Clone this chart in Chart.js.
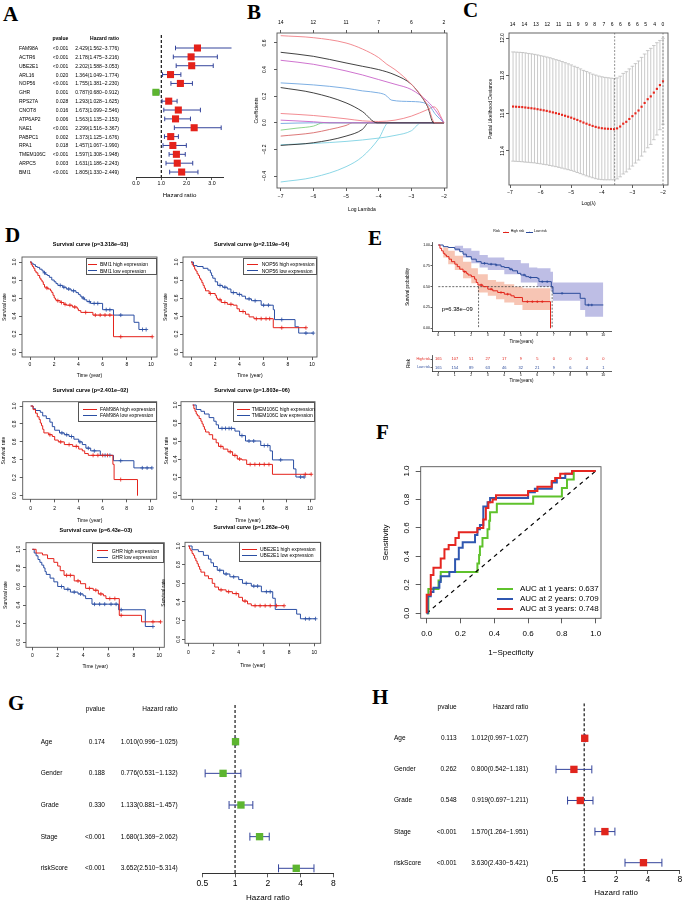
<!DOCTYPE html>
<html>
<head>
<meta charset="utf-8">
<script src="https://cdn.jsdelivr.net/npm/chart.js@4.4.1/dist/chart.umd.min.js"></script>
<style>
  body { margin: 0; background: #fff; }
  #page { position: relative; width: 685px; height: 902px; overflow: hidden; background: #fff;
          font-family: "Liberation Sans", Arial, Helvetica, sans-serif; }
  #page canvas { position: absolute; left: 0; top: 0; }
  .t { position: absolute; white-space: nowrap; line-height: 1; color: #000; }
  .ln { position: absolute; }
  .lg { position: absolute; border: 0.8px solid #555; box-sizing: border-box; }
</style>
</head>
<body>
<div id="page"></div>
<script>
// ---------- A: univariate cox ----------
const A_GENES = ['FAM98A', 'ACTR6', 'UBE2E1', 'ARL16', 'NOP56', 'GHR', 'RPS27A', 'CNOT8', 'ATP6AP2', 'NAE1', 'PABPC1', 'RPA1', 'TMEM106C', 'ARPC5', 'BMI1'];
const A_PVAL = ['<0.001', '<0.001', '<0.001', '0.020', '<0.001', '0.001', '0.028', '0.016', '0.006', '<0.001', '0.002', '0.018', '<0.001', '0.003', '<0.001'];
const A_HR = [2.429, 2.178, 2.202, 1.364, 1.755, 0.787, 1.293, 1.673, 1.563, 2.299, 1.373, 1.457, 1.597, 1.631, 1.805];
const A_LO = [1.562, 1.475, 1.588, 1.049, 1.381, 0.680, 1.028, 1.099, 1.135, 1.516, 1.125, 1.067, 1.308, 1.186, 1.330];
const A_HI = [3.776, 3.216, 3.053, 1.774, 2.230, 0.912, 1.625, 2.546, 2.153, 3.367, 1.676, 1.990, 1.948, 2.243, 2.449];

// ---------- B: lasso coefficient paths [log lambda, coef] ----------
const B_TOP_AT = [-7, -6, -5, -4, -3, -2];
const B_TOP_DF = [14, 12, 11, 7, 6, 2];
const B_P1 = [[-7, 0.655], [-6, 0.64], [-5, 0.6], [-4.5, 0.555], [-4, 0.49], [-3.75, 0.44], [-3.5, 0.4], [-3, 0.29], [-2.5, 0.13], [-2.28, 0], [-2, 0]];
const B_P2 = [[-7, 0.53], [-6, 0.5], [-5, 0.45], [-4.5, 0.425], [-4, 0.4], [-3.5, 0.36], [-3, 0.29], [-2.7, 0.2], [-2.5, 0.12], [-2.32, 0], [-2, 0]];
const B_P3 = [[-7, 0.47], [-6, 0.44], [-5, 0.39], [-4.5, 0.36], [-4, 0.325], [-3.5, 0.29], [-3, 0.25], [-2.5, 0.16], [-2.25, 0.09], [-2, 0]];
const B_P4 = [[-7, 0.3], [-6, 0.285], [-5, 0.26], [-4.5, 0.24], [-4, 0.225], [-3.8, 0.21], [-3.6, 0.17], [-3, 0.16], [-2.5, 0.14], [-2.25, 0.06], [-2, 0]];
const B_P5 = [[-7, 0.265], [-6, 0.225], [-5, 0.15], [-4.5, 0.085], [-4.05, 0], [-2, 0]];
const B_P6 = [[-7, 0.07], [-6, 0.055], [-5, 0.03], [-4.5, 0.015], [-4, 0.01], [-3.5, 0.02], [-3, 0.05], [-2.5, 0.1], [-2.3, 0.12], [-2, 0]];
const B_P7 = [[-7, 0.02], [-6, 0.008], [-5.5, 0], [-2, 0]];
const B_P8 = [[-7, -0.005], [-6, 0], [-2, 0]];
const B_P9 = [[-7, -0.055], [-6.5, -0.04], [-6, -0.025], [-5.7, 0], [-2, 0]];
const B_P10 = [[-7, -0.1], [-6, -0.075], [-5.5, -0.05], [-5, -0.02], [-4.8, 0], [-2, 0]];
const B_P11 = [[-7, -0.17], [-6, -0.15], [-5, -0.1], [-4.5, -0.05], [-4.3, 0], [-2, 0]];
const B_P12 = [[-7, -0.165], [-6, -0.155], [-5, -0.14], [-4, -0.115], [-3.5, -0.095], [-3, -0.06], [-2.7, 0], [-2, 0]];
const B_P13 = [[-7, -0.445], [-6, -0.41], [-5, -0.33], [-4.5, -0.255], [-4, -0.12], [-3.7, 0], [-2, 0]];

// ---------- C: cross validation ----------
const C_LOG_LAMBDA = [-6.9, -6.8, -6.7, -6.6, -6.5, -6.4, -6.3, -6.2, -6.1, -6.0, -5.9, -5.8, -5.7, -5.6, -5.5, -5.4, -5.3, -5.2, -5.1, -5.0,
  -4.9, -4.8, -4.7, -4.6, -4.5, -4.4, -4.3, -4.2, -4.1, -4.0, -3.9, -3.8, -3.7, -3.6, -3.5, -3.4, -3.3, -3.2, -3.1, -3.0,
  -2.9, -2.8, -2.7, -2.6, -2.5, -2.4, -2.3, -2.2, -2.1, -2.0];
const C_DEV = [11.636, 11.635, 11.634, 11.633, 11.631, 11.629, 11.627, 11.625, 11.622, 11.619, 11.616, 11.613, 11.609, 11.605, 11.601, 11.597, 11.592, 11.587, 11.582, 11.577,
  11.571, 11.565, 11.558, 11.551, 11.545, 11.539, 11.533, 11.528, 11.524, 11.521, 11.519, 11.518, 11.517, 11.516, 11.52, 11.53, 11.545, 11.555, 11.57, 11.585,
  11.6, 11.615, 11.635, 11.655, 11.675, 11.69, 11.71, 11.73, 11.75, 11.77];
const C_SE = [0.29, 0.29, 0.29, 0.29, 0.29, 0.289, 0.289, 0.288, 0.288, 0.287, 0.287, 0.286, 0.286, 0.285, 0.284, 0.284, 0.283, 0.282, 0.281, 0.28,
  0.279, 0.279, 0.278, 0.277, 0.277, 0.276, 0.275, 0.275, 0.274, 0.273, 0.272, 0.271, 0.27, 0.269, 0.268, 0.267, 0.267, 0.266, 0.266, 0.265,
  0.264, 0.263, 0.262, 0.26, 0.258, 0.255, 0.25, 0.245, 0.237, 0.228];
const C_TOP_AT = [-6.92, -6.53, -6.15, -5.78, -5.41, -5.07, -4.77, -4.5, -4.23, -3.93, -3.66, -3.39, -3.11, -2.84, -2.57, -2.27, -2.0];
const C_TOP_DF = [14, 14, 13, 12, 11, 11, 9, 9, 8, 7, 6, 6, 6, 6, 5, 4, 0];
const C_LAMBDA_MIN = -3.58;
const C_LAMBDA_1SE = -2.0;

// ---------- D: km curves [time, survival] ----------
const D_GENES = ['BMI1', 'NOP56', 'FAM98A', 'TMEM106C', 'GHR', 'UBE2E1'];
const D_PVALS = ['3.318e\u221203', '2.119e\u221204', '2.401e\u221202', '1.803e\u221206', '6.43e\u221203', '1.263e\u221204'];
const BMI1_HIGH = [[0, 1], [0.1, 0.97], [0.2, 0.95], [0.3, 0.93], [0.4, 0.9], [0.5, 0.88], [0.65, 0.85], [0.8, 0.82], [0.9, 0.8], [1.0, 0.78], [1.1, 0.75], [1.2, 0.72], [1.4, 0.71], [1.5, 0.7], [1.7, 0.68], [1.8, 0.66], [1.9, 0.63], [2.0, 0.6], [2.1, 0.58], [2.2, 0.57], [2.5, 0.55], [2.8, 0.53], [3.0, 0.52], [3.5, 0.5], [3.9, 0.48], [4.0, 0.46], [4.2, 0.44], [5.2, 0.41], [6.9, 0.17], [10.1, 0.17]];
const BMI1_LOW = [[0, 1], [0.15, 0.98], [0.3, 0.97], [0.45, 0.95], [0.6, 0.94], [0.8, 0.92], [1.0, 0.9], [1.15, 0.88], [1.3, 0.86], [1.45, 0.85], [1.6, 0.83], [1.8, 0.8], [2.0, 0.78], [2.15, 0.76], [2.3, 0.74], [2.7, 0.72], [3.0, 0.7], [3.4, 0.68], [3.8, 0.66], [4.0, 0.64], [4.15, 0.62], [4.3, 0.6], [4.5, 0.58], [4.7, 0.56], [5.0, 0.54], [6.0, 0.47], [6.9, 0.41], [8.6, 0.33], [9.0, 0.25], [9.6, 0.25]];
const NOP56_HIGH = [[0, 1], [0.1, 0.97], [0.2, 0.95], [0.3, 0.92], [0.4, 0.9], [0.5, 0.87], [0.6, 0.85], [0.7, 0.82], [0.8, 0.8], [0.9, 0.77], [1.0, 0.74], [1.1, 0.71], [1.2, 0.68], [1.5, 0.65], [2.0, 0.63], [2.1, 0.6], [2.2, 0.58], [2.5, 0.55], [3.0, 0.53], [3.5, 0.52], [3.8, 0.48], [4.0, 0.45], [4.5, 0.42], [4.8, 0.39], [5.2, 0.37], [6.8, 0.27], [9.5, 0.27]];
const NOP56_LOW = [[0, 1], [0.2, 0.96], [0.5, 0.95], [1.0, 0.93], [1.4, 0.91], [1.6, 0.88], [1.7, 0.85], [1.8, 0.82], [2.0, 0.78], [2.2, 0.74], [2.6, 0.72], [3.0, 0.7], [3.3, 0.66], [3.8, 0.64], [4.2, 0.62], [4.5, 0.59], [5.0, 0.57], [5.8, 0.52], [6.8, 0.47], [6.9, 0.36], [8.6, 0.28], [8.9, 0.21], [10.1, 0.21]];
const FAM98A_HIGH = [[0, 1], [0.2, 0.96], [0.4, 0.92], [0.55, 0.88], [0.7, 0.85], [0.8, 0.81], [0.9, 0.78], [1.0, 0.74], [1.1, 0.7], [1.5, 0.68], [1.8, 0.66], [2.0, 0.62], [2.3, 0.6], [2.8, 0.57], [3.5, 0.55], [4.0, 0.52], [4.3, 0.5], [4.5, 0.47], [4.8, 0.45], [6.85, 0.35], [6.95, 0.18], [8.9, 0.0]];
const FAM98A_LOW = [[0, 1], [0.2, 0.97], [0.4, 0.95], [0.8, 0.93], [1.0, 0.89], [1.3, 0.86], [1.6, 0.82], [1.8, 0.77], [2.0, 0.73], [2.4, 0.7], [2.8, 0.68], [3.2, 0.66], [3.6, 0.63], [4.0, 0.6], [4.3, 0.57], [4.6, 0.53], [5.0, 0.5], [5.8, 0.45], [6.9, 0.39], [8.6, 0.31], [10.1, 0.31]];
const TMEM106C_HIGH = [[0, 1], [0.1, 0.96], [0.2, 0.93], [0.3, 0.9], [0.4, 0.88], [0.55, 0.85], [0.7, 0.82], [0.8, 0.79], [0.9, 0.76], [1.0, 0.73], [1.1, 0.7], [1.4, 0.67], [1.7, 0.62], [2.0, 0.58], [2.2, 0.54], [2.6, 0.51], [3.0, 0.48], [3.4, 0.44], [3.8, 0.4], [4.2, 0.39], [4.6, 0.34], [6.8, 0.23], [10.1, 0.23]];
const TMEM106C_LOW = [[0, 1], [0.3, 0.95], [0.7, 0.93], [1.0, 0.9], [1.4, 0.86], [1.8, 0.82], [2.0, 0.78], [2.2, 0.74], [3.6, 0.71], [4.0, 0.66], [4.5, 0.6], [5.8, 0.55], [6.6, 0.49], [6.8, 0.39], [8.6, 0.29], [8.8, 0.2], [9.5, 0.2]];
const GHR_HIGH = [[0, 1], [0.3, 0.96], [0.8, 0.94], [1.2, 0.9], [1.7, 0.86], [2.0, 0.82], [2.2, 0.77], [2.5, 0.72], [3.3, 0.66], [3.8, 0.63], [4.2, 0.58], [4.8, 0.56], [5.2, 0.52], [5.6, 0.5], [5.8, 0.47], [6.85, 0.29], [8.6, 0.22], [10.1, 0.22]];
const GHR_LOW = [[0, 1], [0.15, 0.96], [0.3, 0.93], [0.45, 0.89], [0.6, 0.86], [0.75, 0.83], [0.9, 0.8], [1.0, 0.76], [1.1, 0.73], [1.4, 0.69], [1.7, 0.65], [2.0, 0.6], [2.5, 0.57], [3.0, 0.54], [3.6, 0.52], [4.0, 0.5], [4.2, 0.47], [4.7, 0.41], [6.8, 0.35], [8.9, 0.17], [9.5, 0.17]];
const UBE2E1_HIGH = [[0, 1], [0.1, 0.97], [0.2, 0.95], [0.3, 0.92], [0.4, 0.9], [0.5, 0.87], [0.6, 0.84], [0.7, 0.81], [0.8, 0.78], [0.9, 0.75], [1.0, 0.72], [1.3, 0.68], [1.6, 0.65], [1.9, 0.6], [2.1, 0.56], [2.4, 0.53], [3.0, 0.51], [3.5, 0.49], [4.0, 0.45], [4.3, 0.41], [4.7, 0.38], [5.0, 0.36], [7.6, 0.36]];
const UBE2E1_LOW = [[0, 1], [0.3, 0.96], [0.8, 0.94], [1.2, 0.9], [1.6, 0.86], [1.8, 0.82], [2.0, 0.78], [2.3, 0.74], [2.8, 0.7], [3.3, 0.67], [4.0, 0.64], [4.3, 0.6], [5.0, 0.57], [5.8, 0.51], [6.7, 0.44], [6.9, 0.32], [8.6, 0.27], [8.9, 0.22], [10.1, 0.22]];
const BMI1_HIGH_CENS = [1.4, 2.3, 2.6, 2.9, 3.3, 3.7, 4.6, 5.4, 5.8, 6.2, 6.6, 7.5, 10.1];
const BMI1_LOW_CENS = [1.2, 2.5, 2.8, 3.2, 3.6, 4.4, 4.9, 5.3, 5.6, 6.3, 6.6, 7.5, 9.3, 9.6];
const NOP56_HIGH_CENS = [1.6, 2.4, 2.8, 3.3, 4.3, 5.4, 5.8, 6.2, 6.5, 7.5, 9.5];
const NOP56_LOW_CENS = [2.4, 2.8, 3.5, 4.0, 4.8, 5.3, 6.0, 6.4, 7.5, 9.5, 10.1];
const FAM98A_HIGH_CENS = [1.6, 2.5, 3.2, 3.8, 5.2, 5.6, 6.0, 6.4, 7.5];
const FAM98A_LOW_CENS = [2.6, 3.0, 3.4, 4.1, 4.8, 5.3, 6.2, 6.6, 7.5, 9.3, 9.7, 10.1];
const TMEM106C_HIGH_CENS = [2.4, 3.2, 3.6, 4.0, 4.9, 5.3, 5.7, 6.1, 6.5, 9.6, 10.1];
const TMEM106C_LOW_CENS = [2.5, 2.8, 3.1, 3.3, 4.2, 4.8, 5.2, 6.1, 6.4, 7.5, 9.2, 9.5];
const GHR_HIGH_CENS = [2.7, 3.0, 3.6, 4.5, 5.0, 5.4, 6.1, 6.5, 7.0, 9.5, 10.1];
const GHR_LOW_CENS = [2.3, 2.8, 3.3, 3.8, 4.9, 5.3, 5.7, 6.2, 6.6, 7.0, 9.5];
const UBE2E1_HIGH_CENS = [2.6, 3.2, 3.8, 4.5, 5.3, 5.7, 6.1, 6.5, 7.0, 7.6];
const UBE2E1_LOW_CENS = [2.5, 3.0, 3.6, 4.6, 5.2, 5.5, 6.2, 6.5, 9.3, 9.6, 10.1];

// ---------- E: risk score km ----------
const E_HIGH = [[0, 1], [0.1, 0.96], [0.2, 0.93], [0.3, 0.9], [0.4, 0.88], [0.5, 0.86], [0.65, 0.83], [0.8, 0.8], [1.0, 0.77], [1.15, 0.74], [1.3, 0.71], [1.5, 0.68], [1.7, 0.66], [1.8, 0.64], [2.0, 0.62], [2.2, 0.59], [2.3, 0.55], [2.4, 0.52], [2.7, 0.5], [3.0, 0.47], [3.3, 0.45], [3.6, 0.43], [4.0, 0.41], [4.4, 0.39], [4.6, 0.37], [5.1, 0.32], [6.8, 0.0]];
const E_HIGH_UP = [[0, 1], [0.3, 0.97], [0.6, 0.93], [1.0, 0.87], [1.5, 0.8], [2.0, 0.72], [2.4, 0.65], [3.0, 0.58], [3.5, 0.56], [4.0, 0.53], [4.6, 0.5], [5.1, 0.48], [6.8, 0.48]];
const E_HIGH_LO = [[0, 1], [0.3, 0.85], [0.6, 0.77], [1.0, 0.7], [1.5, 0.6], [2.0, 0.54], [2.4, 0.43], [3.0, 0.39], [3.5, 0.35], [4.0, 0.31], [4.6, 0.28], [5.1, 0.22], [6.8, 0.22]];
const E_LOW = [[0, 1], [0.3, 0.98], [0.6, 0.97], [1.0, 0.95], [1.3, 0.92], [1.5, 0.89], [1.7, 0.86], [2.0, 0.83], [2.3, 0.8], [2.6, 0.78], [3.0, 0.77], [3.5, 0.76], [3.8, 0.74], [4.0, 0.73], [4.3, 0.71], [4.5, 0.69], [4.8, 0.66], [5.0, 0.64], [5.3, 0.62], [5.5, 0.61], [6.0, 0.6], [6.1, 0.56], [6.85, 0.5], [6.95, 0.42], [8.6, 0.36], [8.9, 0.28], [10.0, 0.28]];
const E_LOW_UP = [[0, 1], [1.0, 0.99], [1.5, 0.96], [2.0, 0.93], [2.5, 0.88], [3.0, 0.85], [4.0, 0.82], [5.0, 0.78], [5.5, 0.73], [6.0, 0.72], [6.8, 0.68], [6.95, 0.55], [10.0, 0.55]];
const E_LOW_LO = [[0, 1], [1.0, 0.93], [1.5, 0.85], [2.0, 0.78], [2.5, 0.73], [3.0, 0.7], [4.0, 0.65], [5.0, 0.55], [6.0, 0.5], [6.8, 0.45], [6.95, 0.33], [8.6, 0.22], [8.9, 0.14], [10.0, 0.14]];
const E_HIGH_CENS = [1.6, 2.6, 3.2, 3.8, 4.2, 5.4, 5.7, 6.0, 6.3];
const E_LOW_CENS = [2.8, 3.2, 3.5, 4.4, 5.2, 5.6, 6.3, 6.6, 7.5, 9.1, 9.3];
const E_MED_HIGH = 2.44;
const E_MED_LOW = 6.9;
const E_PVALUE = 'p=6.38e\u221209';
const E_RISK_T = [0, 1, 2, 3, 4, 5, 6, 7, 8, 9, 10];
const E_RISK_HIGH = [165, 107, 51, 27, 17, 9, 5, 0, 0, 0, 0];
const E_RISK_LOW = [165, 154, 89, 63, 46, 32, 21, 9, 6, 4, 1];

// ---------- F: time dependent roc [fpr, tpr] ----------
const F_YEARS = [1, 2, 3];
const F_AUC = [0.637, 0.709, 0.748];
const ROC_1Y = [[0, 0], [0.01, 0.17], [0.07, 0.23], [0.083, 0.29], [0.3, 0.35], [0.31, 0.41], [0.315, 0.47], [0.33, 0.53], [0.36, 0.59], [0.37, 0.65], [0.375, 0.71], [0.415, 0.77], [0.63, 0.82], [0.8, 0.88], [0.83, 0.94], [0.87, 1], [1, 1]];
const ROC_2Y = [[0, 0], [0.006, 0.12], [0.024, 0.15], [0.04, 0.18], [0.075, 0.22], [0.083, 0.26], [0.134, 0.29], [0.168, 0.38], [0.19, 0.46], [0.213, 0.5], [0.286, 0.55], [0.3, 0.59], [0.315, 0.62], [0.335, 0.75], [0.36, 0.78], [0.375, 0.81], [0.6, 0.85], [0.64, 0.875], [0.74, 0.92], [0.77, 0.95], [0.82, 0.98], [0.86, 1], [1, 1]];
const ROC_3Y = [[0, 0], [0, 0.13], [0.024, 0.27], [0.04, 0.32], [0.083, 0.385], [0.105, 0.45], [0.13, 0.48], [0.17, 0.53], [0.19, 0.57], [0.3, 0.6], [0.335, 0.66], [0.35, 0.74], [0.365, 0.78], [0.39, 0.8], [0.41, 0.83], [0.6, 0.86], [0.655, 0.89], [0.74, 0.93], [0.76, 0.95], [0.79, 0.98], [0.86, 1], [1, 1]];

// ---------- G / H: uni and multivariate cox ----------
const GH_VARS = ['Age', 'Gender', 'Grade', 'Stage', 'riskScore'];
const G_PVAL = ['0.174', '0.188', '0.330', '<0.001', '<0.001'];
const G_HR = [1.010, 0.776, 1.133, 1.680, 3.652];
const G_LO = [0.996, 0.531, 0.881, 1.369, 2.510];
const G_HI = [1.025, 1.132, 1.457, 2.062, 5.314];
const H_PVAL = ['0.113', '0.262', '0.548', '<0.001', '<0.001'];
const H_HR = [1.012, 0.800, 0.919, 1.570, 3.630];
const H_LO = [0.997, 0.542, 0.697, 1.264, 2.430];
const H_HI = [1.027, 1.181, 1.211, 1.951, 5.421];

// ================= drawing =================
const W = 685, H = 902;
const page = document.getElementById('page');
const SERIF = '"Liberation Serif", "Times New Roman", serif';
const RED = '#e4221b', BLUE = '#2a4ea3', GREEN = '#5db530', CI_COL = '#34449b';
const MINUS = '\u2212';

Chart.defaults.font.family = '"Liberation Sans", Arial, Helvetica, sans-serif';
Chart.defaults.color = '#000';
Chart.defaults.elements.point.radius = 0;
Chart.defaults.elements.point.hoverRadius = 0;

function txt(s, x, y, o = {}) {
  const d = document.createElement('div');
  d.className = 't';
  d.textContent = s;
  d.style.left = x + 'px';
  d.style.top = y + 'px';
  d.style.fontSize = (o.size || 5) + 'px';
  if (o.bold) d.style.fontWeight = 'bold';
  if (o.color) d.style.color = o.color;
  if (o.font) d.style.fontFamily = o.font;
  const tx = o.align === 'center' ? '-50%' : o.align === 'right' ? '-100%' : '0';
  d.style.transform = 'translate(' + tx + ',-50%)' + (o.rot ? ' rotate(' + o.rot + 'deg)' : '');
  page.appendChild(d);
}

function hline(x0, x1, y, color, w) {
  const d = document.createElement('div');
  d.className = 'ln';
  Object.assign(d.style, { left: x0 + 'px', top: (y - w / 2) + 'px', width: (x1 - x0) + 'px', height: w + 'px', background: color });
  page.appendChild(d);
}

// value range for a pixel span, from two known value/pixel pairs
function rng(v0, p0, v1, p1, pa, pb) {
  const k = (v1 - v0) / (p1 - p0);
  const a = v0 + (pa - p0) * k, b = v0 + (pb - p0) * k;
  return [Math.min(a, b), Math.max(a, b)];
}

const pts = a => a.map(([x, y]) => ({ x, y }));
const signed = d => v => (v < 0 ? MINUS : '') + Math.abs(v).toFixed(d);

function ax(o) {
  return {
    type: o.type || 'linear',
    position: o.pos || 'bottom',
    min: o.min, max: o.max, reverse: !!o.reverse,
    display: o.display !== false,
    afterBuildTicks: s => { if (o.ticks) s.ticks = o.ticks.map(v => ({ value: v })); },
    afterFit: s => { if (o.w !== undefined) s.width = o.w; if (o.h !== undefined) s.height = o.h; },
    ticks: {
      display: o.labels !== false,
      autoSkip: false,
      font: { size: o.fs || 5 },
      color: o.tcolor || '#000',
      padding: o.pad || 0,
      callback: o.fmt || (v => String(v)),
      minRotation: o.rot ? 90 : 0,
      maxRotation: o.rot ? 90 : 0,
      crossAlign: o.rot ? 'center' : 'near'
    },
    grid: { drawOnChartArea: false, drawTicks: (o.tl || 0) > 0, tickLength: o.tl || 0, tickColor: '#333', tickWidth: 0.8 },
    border: { display: !!o.border, color: '#333', width: o.bw || 0.8 },
    title: { display: !!o.title, text: o.title || '', font: { size: o.ts || 5 }, padding: 0, color: '#000' }
  };
}

const frame = {
  id: 'frame',
  afterDraw(ch) {
    const { ctx, chartArea: a } = ch;
    ctx.save();
    ctx.strokeStyle = '#555';
    ctx.lineWidth = 0.9;
    ctx.strokeRect(a.left, a.top, a.right - a.left, a.bottom - a.top);
    ctx.restore();
  }
};

function plot(b, datasets, scales, plugins) {
  const c = document.createElement('canvas');
  c.width = W; c.height = H;
  page.appendChild(c);
  return new Chart(c, {
    type: 'line',
    data: { datasets },
    options: {
      responsive: false, animation: false, events: [],
      layout: { padding: { left: b.l - (b.yw || 0), right: W - b.r, top: b.t - (b.th || 0), bottom: H - b.b - (b.xh || 0) } },
      scales,
      plugins: { legend: { display: false }, tooltip: { enabled: false } }
    },
    plugins: plugins || []
  });
}

function lineDs(data, color, o = {}) {
  return Object.assign({ data, borderColor: color, borderWidth: 1, pointRadius: 0, fill: false }, o);
}

function censDs(curve, times, color, r) {
  const data = times.map(t => {
    let s = curve[0][1];
    for (const [ti, si] of curve) if (ti <= t) s = si;
    return { x: t, y: s };
  });
  return { data, showLine: false, pointStyle: 'cross', pointRadius: r || 2, pointBorderColor: color, pointBorderWidth: 0.8, order: 0 };
}

function dashDs(a, color, w, dash) {
  return { data: pts(a), borderColor: color, borderWidth: w, borderDash: dash, pointRadius: 0, fill: false };
}

// ---------- panel letters ----------
[['A', 3, 13.5], ['B', 247, 12], ['C', 463, 10], ['D', 5, 234.5], ['E', 368, 237.5], ['F', 376, 432], ['G', 8, 702.5], ['H', 372, 697]]
  .forEach(([s, x, y]) => txt(s, x, y, { size: 21, bold: true, font: SERIF }));

// ---------- forest helper ----------
function forest(b, xo, yr, hr, lo, hi, colors, r, cap) {
  const ci = [];
  hr.forEach((v, i) => ci.push({ x: lo[i], y: i }, { x: hi[i], y: i }, { x: hi[i], y: null }));
  return plot(b, [
    { data: hr.map((v, i) => ({ x: v, y: i })), showLine: false, pointStyle: 'rect', pointRadius: r,
      pointBackgroundColor: colors, pointBorderWidth: 0, order: 1, clip: false },
    { data: ci, borderColor: CI_COL, borderWidth: 1, pointStyle: 'line', pointRadius: cap, pointRotation: 90,
      pointBorderColor: CI_COL, pointBorderWidth: 1, order: 2, clip: false, fill: false },
    { data: [{ x: 1, y: yr[0] }, { x: 1, y: yr[1] }], borderColor: '#000', borderWidth: 1.1, borderDash: [3, 2], pointRadius: 0, order: 3, fill: false }
  ], { x: ax(xo), y: ax({ min: yr[0], max: yr[1], reverse: true, display: false }) });
}

// ---------- A ----------
{
  const b = { l: 136, r: 223, t: 35, b: 177, xh: 21.7 };
  const yr = [-1.468, 14.56];
  const ch = forest(b, { min: 0, max: 3.439, ticks: [0, 1, 2, 3], tl: 3, pad: 0, fs: 5.3, border: true, bw: 1,
    h: b.xh, title: 'Hazard ratio', ts: 6.2, fmt: v => v.toFixed(1) },
    yr, A_HR, A_LO, A_HI, A_HR.map(v => v < 1 ? GREEN : RED), 5, 2.3);
  const ys = ch.scales.y;
  txt('pvalue', 68.3, 38.3, { size: 5, bold: true, align: 'right' });
  txt('Hazard ratio', 119, 38.3, { size: 5, bold: true, align: 'right' });
  A_GENES.forEach((g, i) => {
    const y = ys.getPixelForValue(i);
    txt(g, 19, y, { size: 5 });
    txt(A_PVAL[i], 68.3, y, { size: 5, align: 'right' });
    txt(A_HR[i].toFixed(3) + '(' + A_LO[i].toFixed(3) + MINUS + A_HI[i].toFixed(3) + ')', 119, y, { size: 5, align: 'right' });
  });
}

// ---------- B ----------
{
  const b = { l: 277, r: 447, t: 33, b: 188, yw: 23.3, xh: 25, th: 15 };
  const xr = rng(-7, 280.7, -2, 444, b.l, b.r);
  const yr = rng(0.6, 43, -0.4, 176, b.b, b.t);
  const paths = [B_P1, B_P2, B_P3, B_P4, B_P5, B_P6, B_P7, B_P8, B_P9, B_P10, B_P11, B_P12, B_P13];
  const cols = ['#f07f86', '#2e2e2e', '#c964c9', '#6ea6e0', '#2e2e2e', '#f07f86', '#c964c9', '#6ea6e0', '#7fd07f', '#d86a6a', '#2e2e2e', '#7fd3e3', '#7fd3e3'];
  plot(b, paths.map((p, i) => lineDs(pts(p), cols[i], { borderWidth: 0.9, cubicInterpolationMode: 'monotone' })), {
    x: ax({ min: xr[0], max: xr[1], ticks: [-7, -6, -5, -4, -3, -2], tl: 3, pad: 3, h: b.xh, title: 'Log Lambda', fmt: signed(0) }),
    x2: ax({ pos: 'top', min: xr[0], max: xr[1], ticks: B_TOP_AT, tl: 3, pad: 4, h: b.th, fmt: (v, i) => String(B_TOP_DF[i]) }),
    y: ax({ pos: 'left', min: yr[0], max: yr[1], ticks: [-0.4, -0.2, 0, 0.2, 0.4, 0.6], tl: 3, pad: 4, rot: true, w: b.yw, title: 'Coefficients', fmt: signed(1) })
  }, [frame]);
}

// ---------- C ----------
{
  const b = { l: 509, r: 668, t: 33, b: 185, yw: 21, xh: 21.3, th: 14 };
  const xr = rng(-7, 510, -2, 663, b.l, b.r);
  const yr = rng(12.0, 38, 11.4, 151, b.b, b.t);
  const bars = [];
  C_LOG_LAMBDA.forEach((x, i) => bars.push({ x, y: C_DEV[i] - C_SE[i] }, { x, y: C_DEV[i] + C_SE[i] }, { x, y: null }));
  plot(b, [
    { data: bars, borderColor: '#bdbdbd', borderWidth: 0.8, pointStyle: 'line', pointRadius: 1.8, pointBorderColor: '#bdbdbd', pointBorderWidth: 0.8, fill: false, order: 2 },
    { data: C_LOG_LAMBDA.map((x, i) => ({ x, y: C_DEV[i] })), showLine: false, pointStyle: 'rect', pointRadius: 1.5, pointBackgroundColor: '#e8261c', pointBorderWidth: 0, order: 1 },
    dashDs([[C_LAMBDA_MIN, yr[0]], [C_LAMBDA_MIN, yr[1]]], '#777', 0.8, [2, 1.5]),
    dashDs([[C_LAMBDA_1SE, yr[0]], [C_LAMBDA_1SE, yr[1]]], '#777', 0.8, [2, 1.5])
  ], {
    x: ax({ min: xr[0], max: xr[1], ticks: [-7, -6, -5, -4, -3, -2], tl: 3, pad: 1.3, h: b.xh, title: 'Log(\u03bb)', fmt: signed(0) }),
    x2: ax({ pos: 'top', min: xr[0], max: xr[1], ticks: C_TOP_AT, tl: 0, pad: 5, h: b.th, fmt: (v, i) => String(C_TOP_DF[i]) }),
    y: ax({ pos: 'left', min: yr[0], max: yr[1], ticks: [11.4, 11.6, 11.8, 12.0], tl: 3, pad: -1.6, rot: true, w: b.yw, title: 'Partial Likelihood Deviance', fmt: v => v.toFixed(1) })
  }, [frame]);
}

// ---------- D ----------
const D_SPECS = [
  { l: 22, r: 157, t: 257, b: 357, x0: 30, x10: 151, y1: 262, y0: 352, tickY: 365, titleY: 376, ylabX: 15, ytX: 4.3, head: [90.5, 245],
    lg: { x0: 86, y0: 258.3, x1: 156.7, y1: 275, lx0: 88, lx1: 97, tx: 100, rows: [264, 270.7] } },
  { l: 183, r: 317, t: 257, b: 357, x0: 191, x10: 312, y1: 262, y0: 352, tickY: 365, titleY: 376, ylabX: 176.7, ytX: 165.7, head: [251.7, 245],
    lg: { x0: 243, y0: 258.3, x1: 316.7, y1: 275, lx0: 246.7, lx1: 258.3, tx: 261.7, rows: [264, 270.7] } },
  { l: 22.7, r: 156.7, t: 401.7, b: 499.3, x0: 30.7, x10: 150.7, y1: 406, y0: 495.7, tickY: 508.3, titleY: 521, ylabX: 15, ytX: 4, head: [90.5, 391],
    lg: { x0: 78, y0: 401.7, x1: 156.7, y1: 421.7, lx0: 83, lx1: 97, tx: 100, rows: [409.3, 415.3] } },
  { l: 181, r: 315, t: 401.7, b: 499.3, x0: 192.7, x10: 310, y1: 405, y0: 495, tickY: 508.3, titleY: 521, ylabX: 176, ytX: 166.7, head: [252, 391],
    lg: { x0: 232.7, y0: 401.7, x1: 315, y1: 421.7, lx0: 236.7, lx1: 250, tx: 251.7, rows: [409.3, 415.3] } },
  { l: 26, r: 164.3, t: 542.7, b: 647.3, x0: 32.3, x10: 159.3, y1: 549.3, y0: 642.3, tickY: 655.7, titleY: 666.7, ylabX: 18.3, ytX: 6, head: [95.8, 531],
    lg: { x0: 92.3, y0: 543.3, x1: 164.3, y1: 563.3, lx0: 96.7, lx1: 108.3, tx: 111.7, rows: [550.7, 557.3] } },
  { l: 185, r: 320.7, t: 542.3, b: 643.3, x0: 188.3, x10: 314.3, y1: 546, y0: 639.3, tickY: 652.7, titleY: 666, ylabX: 178.5, ytX: 163.3, head: [251.3, 528],
    lg: { x0: 239.3, y0: 542.3, x1: 320.7, y1: 562.3, lx0: 242.3, lx1: 256.7, tx: 260, rows: [549.3, 555.3] } }
];
const D_CURVES = [
  [BMI1_HIGH, BMI1_LOW, BMI1_HIGH_CENS, BMI1_LOW_CENS],
  [NOP56_HIGH, NOP56_LOW, NOP56_HIGH_CENS, NOP56_LOW_CENS],
  [FAM98A_HIGH, FAM98A_LOW, FAM98A_HIGH_CENS, FAM98A_LOW_CENS],
  [TMEM106C_HIGH, TMEM106C_LOW, TMEM106C_HIGH_CENS, TMEM106C_LOW_CENS],
  [GHR_HIGH, GHR_LOW, GHR_HIGH_CENS, GHR_LOW_CENS],
  [UBE2E1_HIGH, UBE2E1_LOW, UBE2E1_HIGH_CENS, UBE2E1_LOW_CENS]
];
D_SPECS.forEach((s, k) => {
  const [hi, lo, hiC, loC] = D_CURVES[k];
  const b = { l: s.l, r: s.r, t: s.t, b: s.b, yw: s.l - s.ytX + 3, xh: s.titleY - s.b + 3 };
  const xr = rng(0, s.x0, 10, s.x10, s.l, s.r);
  const yr = rng(1, s.y1, 0, s.y0, s.b, s.t);
  plot(b, [
    lineDs(pts(hi), RED, { stepped: true }),
    lineDs(pts(lo), BLUE, { stepped: true }),
    censDs(hi, hiC, RED), censDs(lo, loC, BLUE)
  ], {
    x: ax({ min: xr[0], max: xr[1], ticks: [0, 2, 4, 6, 8, 10], tl: 3, pad: s.tickY - s.b - 6, h: b.xh, title: 'Time (year)' }),
    y: ax({ pos: 'left', min: yr[0], max: yr[1], ticks: [0, 0.2, 0.4, 0.6, 0.8, 1], tl: 3, pad: s.l - 6.5 - s.ylabX, rot: true, w: b.yw, title: 'Survival rate', fmt: v => v.toFixed(1) })
  }, [frame]);
  txt('Survival curve (p=' + D_PVALS[k] + ')', s.head[0], s.head[1], { size: 5.5, bold: true, align: 'center' });
  const L = s.lg;
  const box = document.createElement('div');
  box.className = 'lg';
  Object.assign(box.style, { left: L.x0 + 'px', top: L.y0 + 'px', width: (L.x1 - L.x0) + 'px', height: (L.y1 - L.y0) + 'px' });
  page.appendChild(box);
  [[D_GENES[k] + ' high expression', RED], [D_GENES[k] + ' low expression', BLUE]].forEach(([label, c], i) => {
    hline(L.lx0, L.lx1, L.rows[i], c, 1);
    txt(label, L.tx, L.rows[i], { size: 5 });
  });
});

// ---------- E ----------
{
  const b = { l: 432, r: 611, t: 242, b: 331.7, yw: 27.4, xh: 12.7 };
  const xr = rng(0, 438.3, 10, 603.3, b.l, b.r);
  const yr = rng(1, 245, 0, 328.3, b.b, b.t);
  const band = (a, fillCol) => ({ data: pts(a), stepped: true, borderColor: 'rgba(0,0,0,0)', borderWidth: 0, pointRadius: 0,
    fill: fillCol ? '-1' : false, backgroundColor: fillCol || 'rgba(0,0,0,0)', order: 10 });
  plot(b, [
    band(E_HIGH_UP, null), band(E_HIGH_LO, 'rgba(240,140,105,0.5)'),
    band(E_LOW_UP, null), band(E_LOW_LO, 'rgba(120,120,200,0.48)'),
    lineDs(pts(E_HIGH), '#e2231a', { stepped: true, order: 2 }),
    lineDs(pts(E_LOW), '#2b4b9b', { stepped: true, order: 2 }),
    censDs(E_HIGH, E_HIGH_CENS, '#e2231a', 1.3), censDs(E_LOW, E_LOW_CENS, '#2b4b9b', 1.3),
    Object.assign(dashDs([[0, 0.5], [E_MED_LOW, 0.5]], '#444', 0.8, [2, 1.5]), { order: 3 }),
    Object.assign(dashDs([[E_MED_HIGH, 0.5], [E_MED_HIGH, 0]], '#444', 0.8, [2, 1.5]), { order: 3 }),
    Object.assign(dashDs([[E_MED_LOW, 0.5], [E_MED_LOW, 0]], '#444', 0.8, [2, 1.5]), { order: 3 })
  ], {
    x: ax({ min: xr[0], max: xr[1], ticks: E_RISK_T, tl: 1.5, pad: 0, fs: 3.5, border: true, h: b.xh, title: 'Time(years)', ts: 4.5 }),
    y: ax({ pos: 'left', min: yr[0], max: yr[1], ticks: [0, 0.25, 0.5, 0.75, 1], tl: 1.5, pad: 0.5, fs: 3.5, border: true, w: b.yw,
      title: 'Survival probability', ts: 4.5, fmt: v => v.toFixed(2) })
  });
  txt(E_PVALUE, 441.7, 310, { size: 5.8 });
  // legend on top
  txt('Risk', 493.3, 232, { size: 3.5 });
  hline(502.7, 509.3, 232, '#e2231a', 0.9);
  txt('+', 506, 232, { size: 4, color: '#e2231a', align: 'center' });
  txt('High risk', 510.7, 232, { size: 3.5 });
  hline(526, 532.7, 232, '#2b4b9b', 0.9);
  txt('+', 529.3, 232, { size: 4, color: '#2b4b9b', align: 'center' });
  txt('Low risk', 534, 232, { size: 3.5 });

  // risk table
  const bt = { l: 432, r: 611, t: 355, b: 371.7, yw: 26.4, xh: 12 };
  const tbl = plot(bt, [], {
    x: ax({ min: xr[0], max: xr[1], ticks: E_RISK_T, tl: 1.5, pad: 0, fs: 3.5, border: true, h: bt.xh, title: 'Time(years)', ts: 4.5 }),
    y: ax({ pos: 'left', min: -0.5, max: 1.5, ticks: [0, 1], tl: 1.5, pad: 0.5, fs: 3.5, border: true, w: bt.yw, title: 'Risk', ts: 4.5,
      fmt: v => (v === 1 ? 'High risk' : 'Low risk'), tcolor: c => (c.tick && c.tick.value === 1 ? '#e2231a' : '#2b4b9b') })
  });
  const rx = tbl.scales.x, ry = tbl.scales.y;
  E_RISK_T.forEach((t, i) => {
    txt(String(E_RISK_HIGH[i]), rx.getPixelForValue(t), ry.getPixelForValue(1), { size: 4, align: 'center', color: '#e2231a' });
    txt(String(E_RISK_LOW[i]), rx.getPixelForValue(t), ry.getPixelForValue(0), { size: 4, align: 'center', color: '#2b4b9b' });
  });
}

// ---------- F ----------
{
  const b = { l: 420.7, r: 601, t: 466.7, b: 618.3, yw: 39.5, xh: 39.5 };
  const xr = rng(0, 426.7, 1, 595.7, b.l, b.r);
  const yr = rng(1, 471, 0, 613.3, b.b, b.t);
  const cols = ['#5fc22c', '#2f57b0', '#e52620'];
  const rocs = [ROC_1Y, ROC_2Y, ROC_3Y];
  plot(b, [
    dashDs([[0, 0], [1, 1]], '#000', 1.2, [4, 4]),
    ...rocs.map((r, i) => lineDs(pts(r), cols[i], { stepped: true, borderWidth: 2, order: -i }))
  ], {
    x: ax({ min: xr[0], max: xr[1], ticks: [0, 0.2, 0.4, 0.6, 0.8, 1], tl: 5, pad: 5.2, fs: 8, h: b.xh, title: '1\u2212Specificity', ts: 8, fmt: v => v.toFixed(1) }),
    y: ax({ pos: 'left', min: yr[0], max: yr[1], ticks: [0, 0.2, 0.4, 0.6, 0.8, 1], tl: 5, pad: 3.4, fs: 8, rot: true, w: b.yw, title: 'Sensitivity', ts: 8, fmt: v => v.toFixed(1) })
  }, [frame]);
  const rows = [589.3, 599, 608.7];
  F_YEARS.forEach((yv, i) => {
    hline(496.7, 513.3, rows[i], cols[i], 2);
    txt('AUC at ' + yv + ' years: ' + F_AUC[i].toFixed(3), 520, rows[i], { size: 8 });
  });
}

// ---------- G / H ----------
function coxPanel(b, yr, hr, lo, hi, pval, color, cols, headY, tl, pad) {
  const ch = forest(b, { type: 'logarithmic', min: 0.5, max: 8, ticks: [0.5, 1, 2, 4, 8], tl, pad, fs: 8.5, border: true, bw: 1,
    h: b.xh, title: 'Hazard ratio', ts: 8, fmt: v => String(v) }, yr, hr, lo, hi, hr.map(() => color), 5.2, 4);
  const ys = ch.scales.y;
  txt('pvalue', cols[1], headY, { size: 6.5, align: 'right' });
  txt('Hazard ratio', cols[2], headY, { size: 6.5, align: 'right' });
  GH_VARS.forEach((v, i) => {
    const y = ys.getPixelForValue(i);
    txt(v, cols[0], y, { size: 6.5 });
    txt(pval[i], cols[1], y, { size: 6.5, align: 'right' });
    txt(hr[i].toFixed(3) + '(' + lo[i].toFixed(3) + MINUS + hi[i].toFixed(3) + ')', cols[2], y, { size: 6.5, align: 'right' });
  });
}
coxPanel({ l: 202.3, r: 333.3, t: 705, b: 873.3, xh: 28.8 }, [-1.16, 4.158], G_HR, G_LO, G_HI, G_PVAL, GREEN, [40.7, 105, 177.7], 709.3, 4, 0.9);
coxPanel({ l: 552.3, r: 682.3, t: 703.3, b: 870, xh: 27.5 }, [-1.125, 4.235], H_HR, H_LO, H_HI, H_PVAL, '#e0251d', [394, 456.7, 528.3], 707.3, 4, 0.2);
</script>
</body>
</html>
